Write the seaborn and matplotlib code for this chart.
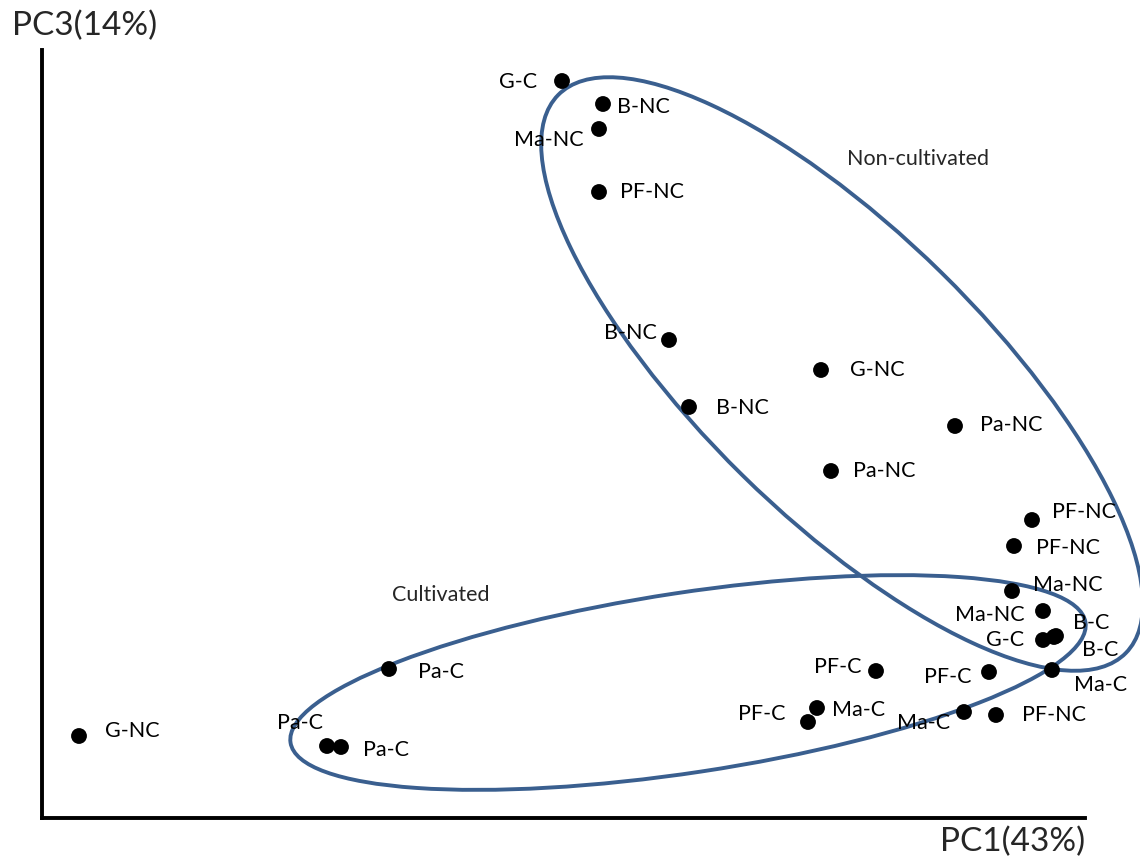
import numpy as np
import pandas as pd
import matplotlib
matplotlib.use("Agg")
import matplotlib.pyplot as plt
import seaborn as sns
from matplotlib.patches import Ellipse

# ---- data (PCA scores, arbitrary units) ----
labels = ["G-C", "B-NC", "Ma-NC", "PF-NC", "B-NC", "G-NC", "B-NC", "Pa-NC", "Pa-NC",
          "PF-NC", "PF-NC", "Ma-NC", "Ma-NC", "G-C", "B-C", "B-C", "Ma-C", "PF-C",
          "PF-C", "Ma-C", "PF-C", "Ma-C", "PF-NC", "Pa-C", "Pa-C", "Pa-C", "G-NC"]
pc1 = [5.20, 5.61, 5.57, 5.57, 6.27, 7.79, 6.47, 9.13, 7.89,
       9.90, 9.72, 9.70, 10.01, 10.01, 10.14, 10.12, 10.10, 9.47,
       8.34, 7.75, 7.66, 9.22, 9.54, 3.47, 2.85, 2.99, 0.37]
pc3 = [7.37, 7.14, 6.89, 6.26, 4.78, 4.48, 4.11, 3.92, 3.47,
       2.98, 2.72, 2.27, 2.07, 1.78, 1.82, 1.81, 1.48, 1.46,
       1.47, 1.10, 0.96, 1.06, 1.03, 1.49, 0.72, 0.71, 0.82]

# label placement (pixel offsets, screen: +y down) and alignment
label_offsets = [(-25, 1, "right"), (14, 3, "left"), (-15, 11, "right"), (21, 0, "left"),
                 (-12, -7, "right"), (29, 0, "left"), (27, 1, "left"), (25, -1, "left"),
                 (22, 0, "left"), (20, -8, "left"), (22, 2, "left"), (21, -6, "left"),
                 (-18, 4, "right"), (-19, 0, "right"), (17, -13, "left"), (28, 13, "left"),
                 (22, 15, "left"), (-18, 5, "right"), (-15, -4, "right"), (15, 2, "left"),
                 (-23, -8, "right"), (-14, 11, "right"), (26, 0, "left"), (29, 3, "left"),
                 (-27, -23, "center"), (22, 3, "left"), (26, -5, "left")]

df = pd.DataFrame({"PC1": pc1, "PC3": pc3, "label": labels})

sns.set_theme(style="white")
plt.rcParams["font.family"] = ["Lato", "DejaVu Sans"]

W, H = 1140, 857
fig = plt.figure(figsize=(W / 100, H / 100), dpi=100)
ax = fig.add_axes([42 / W, (H - 818) / H, 1043 / W, 768 / H])
ax.set_xlim(0, 10.43)
ax.set_ylim(0, 7.68)

sns.scatterplot(data=df, x="PC1", y="PC3", ax=ax, color="black", s=130,
                edgecolor="none", clip_on=False, zorder=3, legend=False)

for (x, y, t), (dx, dy, ha) in zip(zip(pc1, pc3, labels), label_offsets):
    ax.annotate(t, (x, y), xytext=(dx, -dy), textcoords="offset pixels",
                ha=ha, va="center", fontsize=15.5, color="black",
                annotation_clip=False, zorder=4)

ecol = "#3A5F8F"
ax.add_patch(Ellipse((8.00, 4.44), 7.96, 2.84, angle=-44.5, fill=False,
                     edgecolor=ecol, linewidth=2.8, zorder=2, clip_on=False))
ax.add_patch(Ellipse((6.46, 1.355), 8.04, 1.80, angle=8.6, fill=False,
                     edgecolor=ecol, linewidth=2.8, zorder=2, clip_on=False))

ax.text(8.05, 6.59, "Non-cultivated", fontsize=15.5, ha="left", va="center")
ax.text(3.50, 2.23, "Cultivated", fontsize=15.5, ha="left", va="center")

for side in ["top", "right"]:
    ax.spines[side].set_visible(False)
for side in ["left", "bottom"]:
    ax.spines[side].set_color("black")
    ax.spines[side].set_linewidth(2.8)
ax.set_xticks([])
ax.set_yticks([])
ax.set_xlabel("")
ax.set_ylabel("")

fig.text(12 / W, 1 - 26 / H, "PC3(14%)", fontsize=24, ha="left", va="center")
fig.text(1085 / W, 1 - 842 / H, "PC1(43%)", fontsize=24, ha="right", va="center")

fig.savefig("out.png", dpi=100, facecolor="white")
